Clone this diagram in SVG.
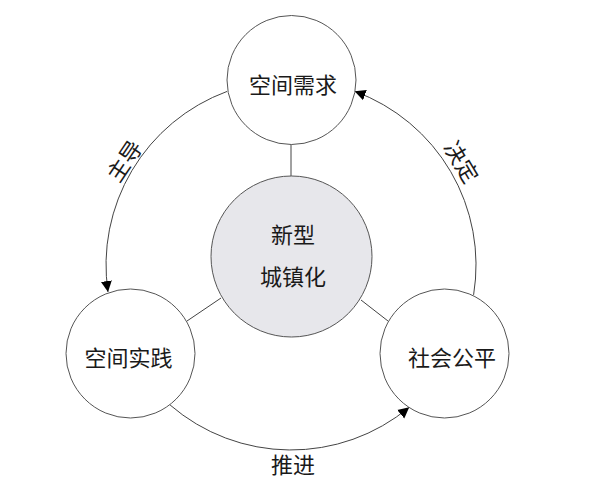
<svg xmlns="http://www.w3.org/2000/svg" width="598" height="498" viewBox="0 0 598 498">
<style>
.node{fill:#ffffff;stroke:#555555;stroke-width:1}
.core{fill:#e7e7eb;stroke:#555555;stroke-width:1}
.lbl{font-family:"Noto Sans CJK SC","Noto Sans",sans-serif;font-size:22px;fill:#1a1a1a;text-anchor:middle;dominant-baseline:central}
.link{fill:none;stroke:#444444;stroke-width:1}
</style>
<defs>
<marker id="ah" markerWidth="12" markerHeight="12" refX="11" refY="6" orient="auto" markerUnits="userSpaceOnUse">
<path d="M0,0.5 L11,6 L0,11.5 Z" fill="#000000"/>
</marker>
</defs>
<rect width="598" height="498" fill="#ffffff"/>
<g id="connectors">
<line class="link" x1="291" y1="144" x2="291" y2="176"/>
<line class="link" x1="187" y1="321" x2="221" y2="298"/>
<line class="link" x1="361" y1="300" x2="388" y2="321"/>
<path id="arc-zhudao" class="link" d="M227.1,91.4 A185,185 0 0 0 108,292" marker-end="url(#ah)"/>
<path id="arc-tuijin" class="link" d="M170.1,405 A185,185 0 0 0 409.2,407.3" marker-end="url(#ah)"/>
<path id="arc-jueding" class="link" d="M473.6,294.9 A185,185 0 0 0 354.6,91.3" marker-end="url(#ah)"/>
<text class="lbl" transform="translate(123,160) rotate(-56)">主导</text>
<text class="lbl" transform="translate(463,161) rotate(59)">决定</text>
<text class="lbl" x="293" y="463">推进</text>
</g>
<g id="node-core">
<circle class="core" cx="291.5" cy="256.5" r="80.5"/>
<text class="lbl" x="293" y="233">新型</text>
<text class="lbl" x="293" y="275">城镇化</text>
</g>
<g id="node-demand">
<circle class="node" cx="291.5" cy="80" r="64.5"/>
<text class="lbl" x="293" y="83">空间需求</text>
</g>
<g id="node-practice">
<circle class="node" cx="130.5" cy="353.5" r="64.5"/>
<text class="lbl" x="128.5" y="356">空间实践</text>
</g>
<g id="node-equity">
<circle class="node" cx="444.5" cy="353.5" r="64.5"/>
<text class="lbl" x="452" y="356">社会公平</text>
</g>
</svg>
